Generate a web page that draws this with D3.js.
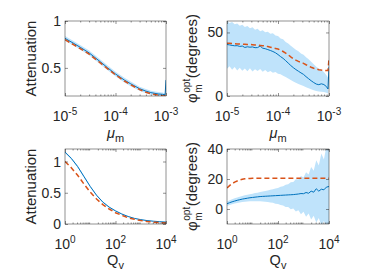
<!DOCTYPE html>
<html><head><meta charset="utf-8">
<script src="https://cdn.jsdelivr.net/npm/d3@7"></script>
<style>
body{margin:0;background:#fff}
svg{display:block}
text{font-family:"Liberation Sans",Arial,Helvetica,sans-serif;fill:#262626}
</style>
</head><body>
<svg id="c" width="370" height="272"></svg>
<script>
// ---------- DATA ----------
// Panel A: Attenuation vs mu_m
const muA = [1e-5,1.5e-5,2e-5,3e-5,5e-5,7e-5,1e-4,1.5e-4,2e-4,3e-4,4e-4,5e-4,7e-4,8.5e-4,9.6e-4,1e-3];
const attMuSim  = [0.815,0.76,0.72,0.66,0.565,0.50,0.435,0.37,0.33,0.278,0.252,0.236,0.222,0.218,0.212,0.37];
const attMuLo   = [0.79,0.735,0.695,0.635,0.54,0.475,0.41,0.345,0.305,0.255,0.23,0.215,0.202,0.198,0.195,0.35];
const attMuHi   = [0.84,0.785,0.745,0.685,0.59,0.525,0.46,0.395,0.355,0.30,0.274,0.257,0.242,0.238,0.23,0.39];
const attMuPred = [0.80,0.745,0.706,0.647,0.553,0.49,0.425,0.36,0.32,0.268,0.24,0.224,0.21,0.204,0.201,0.20];

// Panel B: phi_m^opt vs mu_m
const muB = [1e-5,1.122e-5,1.259e-5,1.413e-5,1.585e-5,1.778e-5,1.995e-5,2.239e-5,2.512e-5,2.818e-5,
  3.162e-5,3.548e-5,3.981e-5,4.467e-5,5.012e-5,5.623e-5,6.310e-5,7.079e-5,7.943e-5,8.913e-5,
  1e-4,1.122e-4,1.259e-4,1.413e-4,1.585e-4,1.778e-4,1.995e-4,2.239e-4,2.512e-4,2.818e-4,
  3.162e-4,3.548e-4,3.981e-4,4.467e-4,5.012e-4,5.623e-4,6.310e-4,7.079e-4,7.943e-4,8.913e-4,9.55e-4,1e-3];
const phiMuSim = [40.5,40.2,39.8,39.5,39.6,39.0,39.3,38.2,38.7,38.4,38.6,38.0,38.1,39.3,37.6,37.2,36.5,35.8,35.0,34.0,
  32.6,31.0,29.6,27.8,25.9,24.0,22.3,20.8,19.5,18.2,17.0,15.2,13.6,12.0,10.6,9.4,8.9,9.6,9.0,7.4,5.5,23];
const phiMuHi = [59,57.5,58.2,56.4,57.1,55.2,56.0,54.3,55.1,53.2,54.0,52.1,52.9,51.0,51.8,50.2,50.6,49.0,49.3,47.6,
  47.2,45.3,44.6,42.4,41.3,39.5,38.0,36.4,35.2,33.5,32.4,30.4,28.9,27.0,25.0,23.1,21.6,20.4,18.8,16.4,14.5,30];
const phiMuLo = [21.5,23.4,20.6,22.8,20.1,22.3,19.8,21.7,19.5,21.9,19.3,21.0,19.6,21.2,19.0,20.4,18.7,19.6,18.2,18.8,
  17.6,17.1,16.0,14.9,13.8,12.6,11.5,10.4,9.5,8.6,7.8,6.9,6.0,5.3,4.6,4.0,3.6,3.4,3.1,2.6,2.0,16];
const phiMuPred = [41.5,41.4,41.2,41.1,41.0,40.9,40.8,40.7,40.6,40.5,40.4,40.2,40.0,39.8,39.6,39.3,38.9,38.4,37.8,37.4,
  37.0,36.0,35.0,33.8,32.4,30.8,29.4,28.2,27.2,26.4,25.7,24.6,23.6,22.6,21.8,21.2,20.7,20.4,20.2,20.0,20.0,29];

// Panel C: Attenuation vs Q_v
const qC = [1,1.778,3.162,5.623,10,17.78,31.62,56.23,100,177.8,316.2,562.3,1000,1778,3162,5623,10000];
const attQSim  = [1.15,1.05,0.92,0.76,0.60,0.46,0.35,0.27,0.21,0.16,0.12,0.09,0.07,0.055,0.045,0.037,0.03];
const attQLo   = [1.135,1.035,0.905,0.745,0.587,0.448,0.339,0.26,0.201,0.152,0.113,0.084,0.064,0.05,0.04,0.032,0.025];
const attQHi   = [1.165,1.065,0.935,0.775,0.613,0.472,0.361,0.28,0.219,0.168,0.127,0.096,0.076,0.06,0.05,0.042,0.035];
const attQPred = [1.00,0.90,0.78,0.64,0.51,0.40,0.31,0.24,0.18,0.14,0.10,0.075,0.055,0.04,0.03,0.022,0.015];

// Panel D: phi_m^opt vs Q_v
const qD = [1,1.259,1.585,1.995,2.512,3.162,3.981,5.012,6.310,7.943,10,12.59,15.85,19.95,25.12,31.62,39.81,50.12,63.10,79.43,
  100,125.9,158.5,199.5,251.2,316.2,398.1,501.2,631.0,794.3,1000,1259,1585,1995,2512,3162,3981,5012,6310,7943,10000];
const phiQSim = [3.5,4.2,4.8,5.3,5.8,6.2,6.6,6.9,7.2,7.5,7.7,7.9,8.1,8.3,8.4,8.5,8.6,8.7,8.8,8.9,
  9.0,9.1,9.2,9.3,9.4,9.5,9.6,9.8,10.0,10.3,10.2,11.0,10.5,11.9,11.2,13.5,11.9,13.2,12.8,14.6,15.0];
const phiQHi = [5.0,5.8,6.5,7.1,7.7,8.2,8.7,9.1,9.5,9.9,10.2,10.6,10.9,11.3,11.6,12.0,12.3,12.8,13.1,13.7,
  14.0,14.8,15.1,16.2,16.5,17.9,18.0,19.8,19.6,22.0,21.0,24.5,23.0,28.0,25.5,32.5,29.0,37.0,33.0,42,41];
const phiQLo = [2.0,2.7,3.2,3.6,4.0,4.3,4.6,4.8,5.0,5.1,5.2,5.2,5.2,5.1,5.0,4.8,4.7,4.3,4.1,3.5,
  3.3,2.6,2.4,1.3,1.4,-0.2,0.3,-1.6,-0.8,-3.5,-1.8,-5.2,-3.0,-7.0,-4.5,-9.0,-6.0,-11,-8,-12,-11];
const phiQPred = [14.0,15.6,16.9,17.9,18.7,19.3,19.8,20.1,20.3,20.4,20.5,20.5,20.5,20.5,20.5,20.5,20.5,20.5,20.5,20.5,
  20.5,20.5,20.5,20.5,20.5,20.5,20.5,20.5,20.5,20.5,20.5,20.5,20.5,20.5,20.5,20.5,20.5,20.5,20.5,20.5,20.5];

// Tick definitions
const muTicks = [1e-5,1e-4,1e-3], muTickExp = ["-5","-4","-3"];
const qTicks = [1,100,10000], qTickExp = ["0","2","4"];
const yTicksA = [0.5,1], yTicksB = [0,50], yTicksC = [0,0.5,1], yTicksD = [0,20,40];

// ---------- DRAW ----------
const svg = d3.select("#c");
const BLUE="#0072BD", RED="#D95319", BAND="#bfe3fb", AX="#262626";
let clipId=0;

function minors(domain){
  const out=[]; const lo=Math.log10(domain[0]), hi=Math.log10(domain[1]);
  for(let e=Math.floor(lo); e<hi; e++) for(let m=2;m<=9;m++) out.push(m*Math.pow(10,e));
  return out;
}

function panel(o){
  const x = d3.scaleLog().domain(o.xd).range([o.x0,o.x1]);
  const y = d3.scaleLinear().domain(o.yd).range([o.y1,o.y0]);
  const g = svg.append("g");
  const id="clip"+(clipId++);
  g.append("clipPath").attr("id",id).append("rect")
    .attr("x",o.x0).attr("y",o.y0).attr("width",o.x1-o.x0).attr("height",o.y1-o.y0);
  const pg = g.append("g").attr("clip-path",`url(#${id})`);
  const idx = d3.range(o.xs.length);
  pg.append("path").datum(idx).attr("fill",BAND)
    .attr("d",d3.area().x(i=>x(o.xs[i])).y0(i=>y(o.lo[i])).y1(i=>y(o.hi[i])));
  pg.append("path").datum(idx).attr("fill","none").attr("stroke",BLUE).attr("stroke-width",1)
    .attr("d",d3.line().x(i=>x(o.xs[i])).y(i=>y(o.sim[i])));
  pg.append("path").datum(idx).attr("fill","none").attr("stroke",RED).attr("stroke-width",1.5)
    .attr("stroke-dasharray","5,3")
    .attr("d",d3.line().x(i=>x(o.xs[i])).y(i=>y(o.pred[i])));

  // ticks
  const tl=3, tm=1.5;
  const mk=(ax,tr)=>{const s=g.append("g").attr("transform",tr).call(ax);
    s.select(".domain").remove(); s.selectAll("line").attr("stroke",AX).attr("stroke-width",0.5); return s;};
  const mn = minors(o.xd);
  mk(d3.axisBottom(x).tickValues(o.xt).tickSize(-tl).tickFormat(""),`translate(0,${o.y1})`);
  mk(d3.axisTop(x).tickValues(o.xt).tickSize(-tl).tickFormat(""),`translate(0,${o.y0})`);
  mk(d3.axisBottom(x).tickValues(mn).tickSize(-tm).tickFormat(""),`translate(0,${o.y1})`);
  mk(d3.axisTop(x).tickValues(mn).tickSize(-tm).tickFormat(""),`translate(0,${o.y0})`);
  mk(d3.axisLeft(y).tickValues(o.yt).tickSize(-tl).tickFormat(""),`translate(${o.x0},0)`);
  mk(d3.axisRight(y).tickValues(o.yt).tickSize(-tl).tickFormat(""),`translate(${o.x1},0)`);
  g.append("rect").attr("x",o.x0).attr("y",o.y0).attr("width",o.x1-o.x0).attr("height",o.y1-o.y0)
    .attr("fill","none").attr("stroke",AX).attr("stroke-width",0.5);

  // x tick labels 10^e
  o.xt.forEach((v,i)=>{
    const t = g.append("text").attr("x",x(v)).attr("y",o.y1+25).attr("text-anchor","middle");
    t.append("tspan").attr("font-size",14).text("10");
    t.append("tspan").attr("font-size",10).attr("dy",-6).text(o.xe[i]);
  });
  // y tick labels
  o.yt.forEach(v=>{
    g.append("text").attr("x",o.x0-4).attr("y",y(v)+5).attr("text-anchor","end")
      .attr("font-size",14).text(o.yfmt(v));
  });
  // x label
  const xl = g.append("text").attr("x",(o.x0+o.x1)/2).attr("y",o.xly).attr("text-anchor","middle");
  xl.append("tspan").attr("font-size",14.5).attr("font-style",o.xlItalic?"italic":"normal").text(o.xlMain);
  xl.append("tspan").attr("font-size",11).attr("dy",4).text(o.xlSub);
  // y label
  const cy=(o.y0+o.y1)/2;
  if(o.ylType==="att"){
    g.append("text").attr("transform",`translate(${o.x0-29},${cy}) rotate(-90)`)
      .attr("text-anchor","middle").attr("font-size",15).text("Attenuation");
  } else {
    const lg = g.append("g").attr("transform",`translate(${o.x0-30},${cy}) rotate(-90)`);
    const inner = lg.append("g");
    const phi = inner.append("text").attr("x",0).attr("y",0).attr("font-size",15).text("\u03C6");
    const wphi = phi.node().getComputedTextLength();
    const sup = inner.append("text").attr("x",wphi+0.5).attr("y",-7).attr("font-size",10).text("opt");
    inner.append("text").attr("x",wphi+0.5).attr("y",5).attr("font-size",10).text("m");
    const wsup = sup.node().getComputedTextLength();
    const deg = inner.append("text").attr("x",wphi+wsup+1).attr("y",0).attr("font-size",15).text("(degrees)");
    const total = wphi+wsup+1+deg.node().getComputedTextLength();
    inner.attr("transform",`translate(${-total/2},0)`);
  }
}

const fmt1 = v=> String(v);
panel({x0:65,x1:166,y0:21,y1:96,xd:[1e-5,1e-3],yd:[0.2,1],xs:muA,sim:attMuSim,lo:attMuLo,hi:attMuHi,pred:attMuPred,
  xt:muTicks,xe:muTickExp,yt:yTicksA,yfmt:fmt1,xly:138,xlMain:"\u03BC",xlItalic:true,xlSub:"m",ylType:"att"});
panel({x0:227,x1:329,y0:21,y1:96,xd:[1e-5,1e-3],yd:[0,59],xs:muB,sim:phiMuSim,lo:phiMuLo,hi:phiMuHi,pred:phiMuPred,
  xt:muTicks,xe:muTickExp,yt:yTicksB,yfmt:fmt1,xly:138,xlMain:"\u03BC",xlItalic:true,xlSub:"m",ylType:"phi"});
panel({x0:65,x1:166,y0:149,y1:224,xd:[1,1e4],yd:[0,1.2],xs:qC,sim:attQSim,lo:attQLo,hi:attQHi,pred:attQPred,
  xt:qTicks,xe:qTickExp,yt:yTicksC,yfmt:fmt1,xly:265,xlMain:"Q",xlItalic:false,xlSub:"v",ylType:"att"});
panel({x0:227,x1:329,y0:149,y1:224,xd:[1,1e4],yd:[-10,40],xs:qD,sim:phiQSim,lo:phiQLo,hi:phiQHi,pred:phiQPred,
  xt:qTicks,xe:qTickExp,yt:yTicksD,yfmt:fmt1,xly:265,xlMain:"Q",xlItalic:false,xlSub:"v",ylType:"phi"});
</script>
</body></html>
